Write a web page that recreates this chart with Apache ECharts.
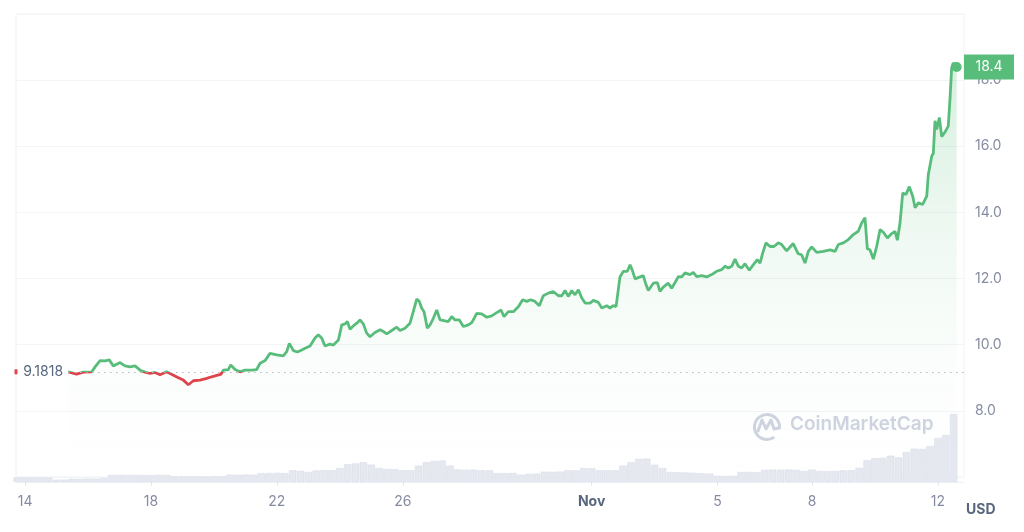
<!DOCTYPE html>
<html>
<head>
<meta charset="utf-8">
<title>Price chart</title>
<script src="https://cdn.jsdelivr.net/npm/echarts@6/dist/echarts.min.js"></script>
<style>
  html, body { margin: 0; padding: 0; background: #fff; }
  #chart { width: 1024px; height: 532px; }
</style>
</head>
<body>
<div id="chart"></div>
<script>
// hours since Oct 14 00:00
const priceHours = [32.8, 39.4, 44.4, 50.9, 53.4, 57.2, 61.0, 64.3, 67.3, 72.4, 76.2, 80.1, 83.9, 87.7, 91.5, 95.3, 99.1, 102.9, 108.0, 113.1,
  116.9, 120.7, 124.5, 128.3, 133.4, 138.5, 142.3, 146.2, 149.2, 151.2, 155.0, 156.8, 160.1, 163.9, 167.7, 172.8, 176.6, 179.2, 183.0, 186.8,
  191.9, 196.9, 199.5, 201.5, 204.6, 207.6, 211.0, 213.5, 217.3, 221.1, 223.6, 226.2, 228.7, 232.5, 235.1, 238.9, 241.5, 244.0, 245.7, 247.8,
  250.3, 252.9, 255.4, 257.9, 260.5, 263.0, 266.8, 270.7, 273.2, 275.8, 279.6, 283.4, 285.9, 289.7, 293.5, 296.0, 298.6, 300.6, 302.4, 304.2,
  306.7, 308.8, 311.3, 313.9, 316.4, 319.4, 322.7, 325.3, 327.8, 331.1, 334.2, 338.0, 340.6, 344.4, 348.2, 352.0, 355.8, 359.6, 362.9, 365.2,
  368.5, 372.3, 376.1, 379.4, 382.5, 385.5, 388.8, 392.1, 395.1, 399.0, 402.8, 406.6, 409.2, 411.7, 414.2, 416.8, 419.3, 421.9, 424.5, 427.0,
  430.8, 433.3, 437.1, 439.7, 443.5, 446.0, 448.5, 450.6, 452.3, 453.6, 456.2, 459.2, 461.3, 463.3, 465.1, 468.9, 471.4, 473.5, 475.2, 479.0,
  482.1, 484.1, 486.6, 490.4, 493.0, 495.6, 498.1, 500.7, 503.2, 507.0, 509.5, 512.1, 515.9, 519.7, 523.5, 527.3, 531.1, 533.7, 536.2, 538.8,
  541.3, 543.9, 546.4, 548.9, 552.2, 555.3, 558.3, 560.4, 562.4, 564.9, 568.0, 571.0, 574.3, 576.9, 580.7, 585.7, 589.5, 592.1, 594.7, 597.2,
  599.8, 603.6, 608.6, 613.7, 617.6, 620.1, 623.9, 627.7, 631.5, 635.3, 637.9, 640.4, 642.2, 644.2, 646.8, 649.3, 651.9, 654.4, 657.5, 660.8,
  663.3, 665.1, 667.1, 669.2, 671.7, 674.2, 676.8, 678.6, 681.1, 684.4, 687.5, 688.7, 691.3, 692.5, 693.8, 695.1, 697.1, 698.9, 701.4, 703.9,
  705.2, 706.5, 707.7, 710.3];

const prices = [9.18, 9.11, 9.17, 9.18, 9.33, 9.52, 9.51, 9.54, 9.36, 9.46, 9.36, 9.33, 9.36, 9.23, 9.17, 9.13, 9.16, 9.09, 9.18, 9.08,
  9.00, 8.93, 8.79, 8.91, 8.93, 8.98, 9.03, 9.07, 9.10, 9.23, 9.25, 9.39, 9.25, 9.18, 9.23, 9.23, 9.25, 9.44, 9.52, 9.74,
  9.69, 9.66, 9.79, 10.04, 9.82, 9.78, 9.84, 9.89, 9.96, 10.20, 10.30, 10.20, 9.96, 10.02, 9.99, 10.14, 10.60, 10.63, 10.70, 10.47,
  10.57, 10.65, 10.75, 10.63, 10.35, 10.24, 10.37, 10.45, 10.40, 10.33, 10.43, 10.53, 10.43, 10.50, 10.65, 11.00, 11.38, 11.31, 11.11, 11.00,
  10.50, 10.60, 10.80, 11.05, 10.75, 10.73, 10.70, 10.85, 10.75, 10.75, 10.55, 10.60, 10.67, 10.95, 10.93, 10.83, 10.87, 10.97, 11.05, 10.85,
  11.00, 11.00, 11.15, 11.36, 11.31, 11.36, 11.31, 11.18, 11.48, 11.56, 11.61, 11.48, 11.48, 11.64, 11.46, 11.64, 11.51, 11.66, 11.41, 11.26,
  11.26, 11.34, 11.28, 11.11, 11.18, 11.11, 11.18, 11.15, 11.66, 12.05, 12.22, 12.22, 12.42, 12.22, 11.99, 12.05, 12.09, 11.81, 11.64, 11.86,
  11.88, 11.61, 11.74, 11.86, 11.71, 11.88, 12.06, 12.05, 12.17, 12.12, 12.19, 12.06, 12.09, 12.05, 12.12, 12.22, 12.27, 12.37, 12.32, 12.37,
  12.59, 12.37, 12.32, 12.45, 12.25, 12.42, 12.57, 12.47, 12.77, 13.08, 12.97, 12.97, 13.08, 13.03, 12.84, 13.06, 12.75, 12.72, 12.47, 12.82,
  12.96, 12.79, 12.82, 12.87, 12.82, 13.03, 13.08, 13.18, 13.33, 13.43, 13.68, 13.84, 12.90, 12.87, 12.59, 12.97, 13.48, 13.40, 13.23, 13.36,
  13.43, 13.16, 13.68, 14.59, 14.54, 14.78, 14.49, 14.14, 14.29, 14.24, 14.49, 15.15, 15.70, 15.79, 16.77, 16.51, 16.87, 16.29, 16.43, 16.61,
  17.42, 18.38, 18.52, 18.40];

// volume (M USD), one bar every 6 hours starting at hour -6
const volStartHour = -6;
const volStepHours = 6;
const volumes = [46, 46, 45, 47, 44, 23, 24, 33, 32, 34, 33, 40, 70, 72, 69, 71, 70, 68, 72, 70,
  57, 56, 58, 57, 55, 58, 57, 73, 72, 74, 73, 88, 90, 92, 89, 117, 112, 100, 115, 118,
  117, 140, 178, 185, 197, 173, 140, 130, 128, 117, 118, 163, 197, 210, 214, 163, 125, 122, 124, 117,
  116, 90, 89, 91, 73, 82, 84, 103, 102, 104, 117, 116, 140, 138, 118, 116, 117, 163, 197, 232,
  234, 173, 140, 100, 98, 95, 92, 88, 84, 62, 60, 61, 100, 101, 99, 122, 124, 123, 125, 122,
  110, 123, 110, 108, 111, 116, 118, 143, 217, 238, 242, 263, 245, 300, 333, 330, 360, 440, 470, 680];

const basePrice = 9.1818;
const lastPrice = 18.4;

const tickHours = [0, 96, 192, 288, 432, 528, 600, 696];
const tickLabels = ['14', '18', '22', '26', 'Nov', '5', '8', '12'];
const priceTicks = [8, 10, 12, 14, 16, 18];

const xMin = -6.9;
const xMax = 715.9;

const green = '#58bd7a';
const red = '#e0444b';

const priceData = priceHours.map((h, i) => [h, prices[i]]);
const volumeData = volumes.map((v, i) => [volStartHour + i * volStepHours, v]);

const chart = echarts.init(document.getElementById('chart'));

const option = {
  animation: false,
  textStyle: { fontFamily: 'Inter, "Noto Sans", sans-serif' },
  grid: [
    { left: 16, right: 60, top: 14, bottom: 55, show: true, borderColor: '#f1f2f5', borderWidth: 1 },
    { left: 16, right: 60, top: 400, bottom: 50 }
  ],
  xAxis: [
    { type: 'value', gridIndex: 0, min: xMin, max: xMax, show: false },
    {
      type: 'value', gridIndex: 1, min: xMin, max: xMax,
      splitLine: { show: false },
      axisLine: { show: true, lineStyle: { color: '#eef0f4' } },
      axisTick: { show: true, customValues: tickHours, length: 4, lineStyle: { color: '#e6e8ee' } },
      axisLabel: {
        customValues: tickHours,
        margin: 13,
        fontSize: 14,
        color: '#858ca2',
        formatter: (val) => {
          const i = tickHours.indexOf(val);
          const txt = i >= 0 ? tickLabels[i] : '';
          return txt === 'Nov' ? '{b|Nov}' : txt;
        },
        rich: { b: { fontSize: 14, fontWeight: 'bold', color: '#58667e' } }
      }
    }
  ],
  yAxis: [
    {
      type: 'value', gridIndex: 0, position: 'right', min: 6, max: 20, interval: 2,
      axisLine: { show: false },
      axisTick: { show: false },
      splitLine: { lineStyle: { color: '#f3f4f7' } },
      axisLabel: {
        margin: 11, fontSize: 14, color: '#858ca2',
        formatter: (v) => priceTicks.indexOf(v) >= 0 ? v.toFixed(1) : ''
      }
    },
    { type: 'value', gridIndex: 1, min: 0, max: 820, show: false }
  ],
  series: [
    {
      name: 'Price',
      type: 'line',
      xAxisIndex: 0,
      yAxisIndex: 0,
      data: priceData,
      showSymbol: false,
      z: 4,
      lineStyle: { width: 2.8, color: green },
      areaStyle: {
        origin: 'start',
        color: new echarts.graphic.LinearGradient(0, 0, 0, 1, [
          { offset: 0, color: 'rgba(88,189,122,0.34)' },
          { offset: 0.45, color: 'rgba(88,189,122,0.12)' },
          { offset: 0.75, color: 'rgba(88,189,122,0.03)' },
          { offset: 1, color: 'rgba(88,189,122,0.0)' }
        ])
      },
      markLine: {
        silent: true,
        symbol: 'none',
        data: [
          [
            {
              coord: [priceHours[0], basePrice],
              lineStyle: { type: [1.5, 4.5], color: '#b4b9c6', width: 1 },
              label: {
                show: true, position: 'start', distance: 5,
                formatter: basePrice.toString(), fontSize: 14, color: '#58667e'
              }
            },
            { coord: [xMax, basePrice] }
          ]
        ]
      },
      markPoint: {
        silent: true,
        data: [
          // last price dot
          {
            coord: [priceHours[priceHours.length - 1], prices[prices.length - 1]],
            symbol: 'circle', symbolSize: 10,
            itemStyle: { color: green },
            label: { show: false }
          },
          // price tag beside the axis
          {
            coord: [xMax, lastPrice],
            symbol: 'rect', symbolSize: [50, 25], symbolOffset: [25, 0],
            itemStyle: { color: green },
            label: { show: true, position: 'inside', formatter: lastPrice.toFixed(1), fontSize: 14, color: '#fff' }
          },
          // small marker at the left edge of the opening line
          {
            coord: [xMin, basePrice],
            symbol: 'rect', symbolSize: [3, 5],
            itemStyle: { color: red },
            label: { show: false }
          }
        ]
      }
    },
    {
      name: 'Volume',
      type: 'bar',
      xAxisIndex: 1,
      yAxisIndex: 1,
      data: volumeData,
      barWidth: 7.4,
      z: 3,
      itemStyle: { color: '#e6e8f0', borderColor: '#d7dbe6', borderWidth: 0.5 }
    }
  ],
  graphic: [
    // watermark
    {
      type: 'arc', left: 752, top: 412, silent: true,
      shape: { cx: 0, cy: 0, r: 12.5, startAngle: Math.PI * 0.3, endAngle: Math.PI * 2.05 },
      style: { stroke: '#cfd4e0', lineWidth: 3, fill: null }
    },
    {
      type: 'polyline', silent: true,
      shape: { points: [[758, 431], [762, 420], [766, 429], [771, 420], [774, 429], [779, 428]] },
      style: { stroke: '#cfd4e0', lineWidth: 3, fill: null, lineJoin: 'round', lineCap: 'round' }
    },
    {
      type: 'text', left: 790, top: 415, silent: true,
      style: { text: 'CoinMarketCap', fontSize: 19, fontWeight: 600, fill: '#cfd4e0', fontFamily: 'Inter' }
    },
    {
      type: 'text', left: 966, top: 503,
      style: { text: 'USD', fontSize: 14, fontWeight: 'bold', fill: '#58667e', fontFamily: 'Inter' }
    }
  ]
};

chart.setOption(option);

// red below the opening price, green above: hard stop at the baseline pixel
const baseY = chart.convertToPixel({ gridIndex: 0 }, [0, basePrice])[1];
const h = chart.getHeight();
chart.setOption({
  series: [{
    name: 'Price',
    lineStyle: {
      color: new echarts.graphic.LinearGradient(0, 0, 0, h, [
        { offset: 0, color: green },
        { offset: baseY / h, color: green },
        { offset: baseY / h, color: red },
        { offset: 1, color: red }
      ], true)
    }
  }]
});
</script>
</body>
</html>
